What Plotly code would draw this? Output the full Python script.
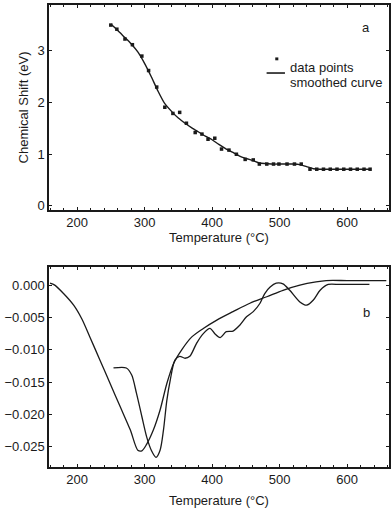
import plotly.graph_objects as go

# ---- Panel a data ----
temp_pts = [250, 259, 271, 282, 296, 306, 318, 330, 342, 352, 362, 375, 385, 394,
            404, 414, 425, 436, 449, 461, 470, 481, 491, 499, 511, 522, 532, 545,
            555, 565, 575, 585, 595, 605, 615, 625, 634]
shift_pts = [3.50, 3.42, 3.23, 3.12, 2.90, 2.62, 2.30, 1.91, 1.79, 1.81, 1.60, 1.42,
             1.39, 1.29, 1.31, 1.10, 1.08, 1.00, 0.90, 0.89, 0.81, 0.81, 0.81, 0.81,
             0.81, 0.81, 0.81, 0.71, 0.71, 0.71, 0.71, 0.71, 0.71, 0.71, 0.71, 0.71, 0.71]

temp_smooth = [250, 260, 270, 280, 290, 300, 310, 320, 330, 340, 350, 360, 370, 380,
               390, 400, 410, 420, 430, 440, 450, 460, 470, 480, 490, 500, 510, 520,
               530, 540, 550, 560, 580, 600, 620, 635]
shift_smooth = [3.52, 3.40, 3.27, 3.14, 2.98, 2.76, 2.50, 2.22, 1.98, 1.83, 1.70, 1.60,
                1.51, 1.43, 1.35, 1.28, 1.19, 1.11, 1.04, 0.97, 0.92, 0.88, 0.83, 0.82,
                0.81, 0.81, 0.81, 0.81, 0.80, 0.76, 0.72, 0.71, 0.71, 0.71, 0.71, 0.71]

# ---- Panel b data ----
temp_b1 = [160, 167, 180, 195, 207, 219, 234, 249, 264, 279, 290, 296, 303, 313, 323,
           333, 343, 355, 370, 387, 407, 431, 456, 481, 505, 530, 554, 569, 600, 630, 658]
deriv_b1 = [0.0003, 0.0000, -0.0013, -0.0031, -0.0052, -0.0080, -0.0116, -0.0152,
            -0.0188, -0.0224, -0.0255, -0.0256, -0.0246, -0.0224, -0.0193, -0.0152,
            -0.0121, -0.0100, -0.0080, -0.0067, -0.0054, -0.0041, -0.0028, -0.0018,
            -0.0008, 0.0000, 0.0005, 0.0007, 0.0007, 0.0007, 0.0007]

temp_b2 = [254, 273, 281, 288, 296, 303, 310, 317, 323, 328, 333, 338, 345, 352, 360,
           367, 377, 387, 397, 404, 412, 421, 431, 441, 451, 461, 471, 478, 486, 495,
           505, 515, 530, 540, 550, 560, 572, 589, 610, 633]
deriv_b2 = [-0.0128, -0.0128, -0.0139, -0.0167, -0.0203, -0.0234, -0.0255, -0.0266,
            -0.0255, -0.0224, -0.0178, -0.0147, -0.0116, -0.0110, -0.0113, -0.0110,
            -0.0090, -0.0075, -0.0067, -0.0075, -0.0081, -0.0072, -0.0071, -0.0062,
            -0.0049, -0.0041, -0.0028, -0.0013, -0.0003, 0.0003, 0.0002, -0.0008,
            -0.0026, -0.0031, -0.0023, -0.0008, 0.0001, 0.0001, 0.0001, 0.0001]

x_ticks = [200, 300, 400, 500, 600]
ya_ticks = [0, 1, 2, 3]
yb_ticks = [0.000, -0.005, -0.010, -0.015, -0.020, -0.025]

FONT = "Liberation Sans, Arial, sans-serif"
INK = "#1a1a1a"

fig = go.Figure()
fig.add_trace(go.Scatter(x=temp_smooth, y=shift_smooth, mode="lines",
                         line=dict(color=INK, width=1.4, shape="spline", smoothing=0.6),
                         xaxis="x", yaxis="y", showlegend=False))
fig.add_trace(go.Scatter(x=temp_pts, y=shift_pts, mode="markers",
                         marker=dict(color=INK, size=3.5, symbol="square"),
                         xaxis="x", yaxis="y", showlegend=False))
fig.add_trace(go.Scatter(x=temp_b1, y=deriv_b1, mode="lines",
                         line=dict(color=INK, width=1.3, shape="spline", smoothing=0.8),
                         xaxis="x2", yaxis="y2", showlegend=False))
fig.add_trace(go.Scatter(x=temp_b2, y=deriv_b2, mode="lines",
                         line=dict(color=INK, width=1.3, shape="spline", smoothing=0.8),
                         xaxis="x2", yaxis="y2", showlegend=False))

axis_common = dict(showline=True, linecolor=INK, linewidth=1.5, mirror="ticks",
                   ticks="inside", ticklen=3, tickcolor=INK, tickwidth=1,
                   showgrid=False, zeroline=False,
                   tickfont=dict(family=FONT, size=13, color=INK), automargin=False)

xr = [158.5, 662]
fig.update_layout(
    width=392, height=509,
    margin=dict(l=49, r=3, t=4, b=42),
    paper_bgcolor="white", plot_bgcolor="white",
    font=dict(family=FONT, size=13, color=INK),
    xaxis=dict(domain=[0, 1], range=xr, tickvals=x_ticks, anchor="y",
               minor=dict(dtick=20, ticks="inside", ticklen=2, tickcolor=INK),
               title=dict(text="Temperature (°C)", standoff=3,
                          font=dict(family=FONT, size=13, color=INK)),
               **axis_common),
    yaxis=dict(domain=[0.555, 0.998], range=[-0.08, 3.89], tickvals=ya_ticks, anchor="x",
               title=dict(text="Chemical Shift (eV)", standoff=6,
                          font=dict(family=FONT, size=13, color=INK)),
               **axis_common),
    xaxis2=dict(domain=[0, 1], range=xr, tickvals=x_ticks, anchor="y2",
                minor=dict(dtick=20, ticks="inside", ticklen=2, tickcolor=INK),
                title=dict(text="Temperature (°C)", standoff=10,
                           font=dict(family=FONT, size=13, color=INK)),
                **axis_common),
    yaxis2=dict(domain=[0, 0.432], range=[-0.0281, 0.0028], tickvals=yb_ticks,
                tickformat=".3f", anchor="x2", **axis_common),
)

# panel labels
fig.add_annotation(text="a", xref="x domain", yref="y domain", x=0.95, y=0.937,
                   showarrow=False, font=dict(family=FONT, size=13, color=INK))
fig.add_annotation(text="b", xref="x2 domain", yref="y2 domain", x=0.95, y=0.82,
                   showarrow=False, font=dict(family=FONT, size=13, color=INK))

# legend (panel a)
fig.add_shape(type="rect", xref="x domain", yref="y domain",
              x0=0.6655, x1=0.6745, y0=0.730, y1=0.744,
              fillcolor=INK, line=dict(width=0))
fig.add_shape(type="line", xref="x domain", yref="y domain",
              x0=0.640, x1=0.694, y0=0.668, y1=0.668, line=dict(color=INK, width=1.6))
fig.add_annotation(text="data points", xref="x domain", yref="y domain",
                   x=0.704, y=0.7415, xanchor="left", showarrow=False,
                   font=dict(family=FONT, size=13, color=INK))
fig.add_annotation(text="smoothed curve", xref="x domain", yref="y domain",
                   x=0.704, y=0.668, xanchor="left", showarrow=False,
                   font=dict(family=FONT, size=13, color=INK))

fig.write_html("out.html", config={"displayModeBar": False},
               post_script="document.body.style.margin='0';document.body.style.overflow='hidden';")
